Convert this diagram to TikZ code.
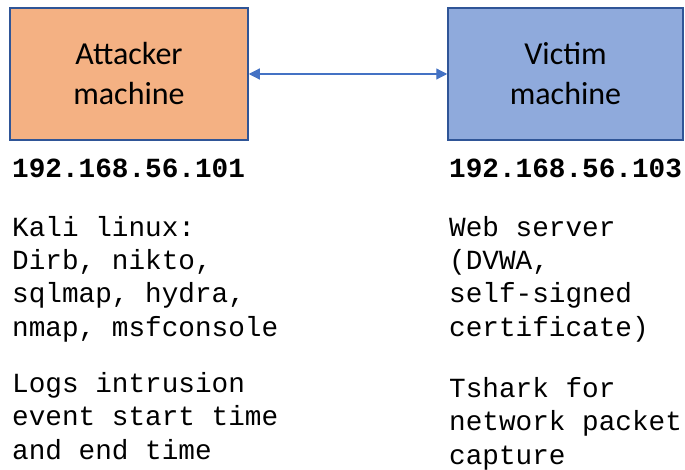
\documentclass[tikz,border=0pt]{standalone}
\usepackage{fontspec}
\setmainfont{Carlito}
\setmonofont{Liberation Mono}
\usetikzlibrary{arrows.meta}
\definecolor{attfill}{HTML}{F4B183}
\definecolor{vicfill}{HTML}{8FAADC}
\definecolor{boxline}{HTML}{2F5597}
\definecolor{arrowc}{HTML}{4472C4}
\tikzset{
  machine/.style={draw=boxline, line width=1.5pt, minimum height=132pt, align=center,
    font=\fontsize{32}{40}\selectfont, inner sep=0pt},
  ip/.style={anchor=base west, inner sep=0pt, font=\ttfamily\bfseries\fontsize{27.7}{33}\selectfont},
  info/.style={anchor=base west, inner sep=0pt, align=left, font=\ttfamily\fontsize{27.7}{33.3}\selectfont}
}
\begin{document}
\begin{tikzpicture}[x=1pt,y=-1pt]
\useasboundingbox (0,0) rectangle (685,470);
\node[machine, fill=attfill, minimum width=238pt] (A) at (129,74) {Attacker\\machine};
\node[machine, fill=vicfill, minimum width=235pt] (V) at (565.5,74) {Victim\\machine};
\draw[arrowc, line width=1.2pt, {Triangle[length=11pt,width=11pt]}-{Triangle[length=11pt,width=11pt]}] (A.east) -- (V.west);
\node[ip] (ipa) at (12,178) {192.168.56.101};
\node[ip] (ipv) at (449,178) {192.168.56.103};
\node[info] (ta) at (12,336) {Kali linux:\\Dirb, nikto,\\sqlmap, hydra,\\nmap, msfconsole};
\node[info] (tb) at (12,459) {Logs intrusion\\event start time\\and end time};
\node[info] (tv) at (449,336) {Web server\\(DVWA,\\self-signed\\certificate)};
\node[info] (tw) at (449,464) {Tshark for\\network packet\\capture};
\end{tikzpicture}
\end{document}
